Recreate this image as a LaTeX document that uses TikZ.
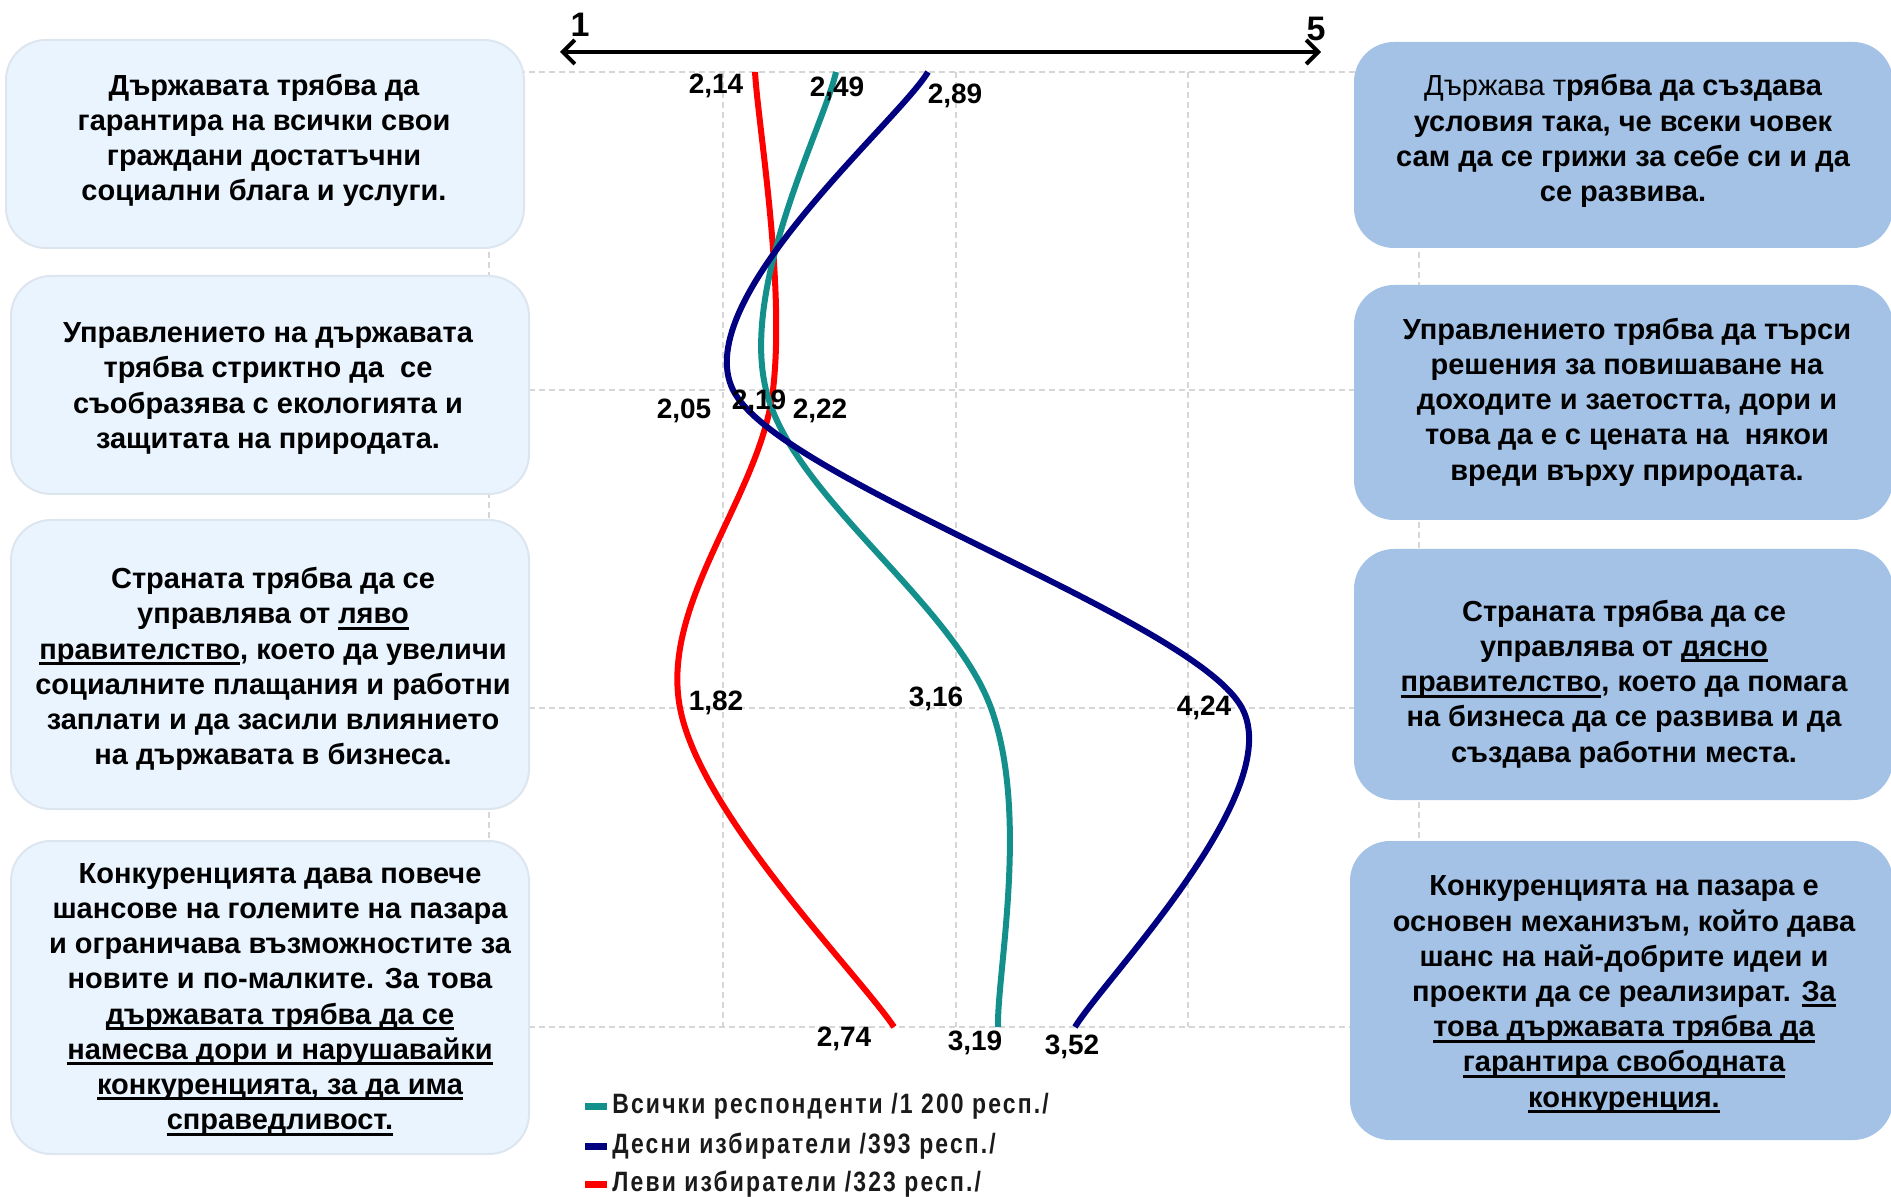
\documentclass[tikz,border=0pt]{standalone}
\usepackage{fontspec}
\setmainfont{Liberation Sans}
\newfontfamily\legfont{Liberation Sans}[FakeStretch=0.82, LetterSpace=7.6]
\usetikzlibrary{arrows.meta}
\definecolor{lboxc}{HTML}{EAF4FE}
\definecolor{lborderc}{HTML}{DDE5EE}
\definecolor{rboxc}{HTML}{A3C2E6}
\definecolor{allc}{HTML}{14908C}
\definecolor{rightc}{HTML}{000080}
\definecolor{leftc}{HTML}{FF0000}
\definecolor{gridc}{HTML}{D6D6D6}
\definecolor{legc}{HTML}{1A1A1A}
\newcommand\myul[1]{\leavevmode\setbox0\hbox{#1}\rlap{\vrule width\wd0 height -1.5pt depth 3pt}\box0}
\tikzset{
  gridline/.style={gridc, line width=0.75pt, dash pattern=on 3pt off 2pt},
  lbox/.style={draw=lborderc, line width=1pt, fill=lboxc, rounded corners=20pt, inner sep=0pt},
  rbox/.style={fill=rboxc, rounded corners=20pt, inner sep=0pt},
  btext/.style={align=center, inner sep=0pt, font=\bfseries\fontsize{14.5}{17.6}\selectfont},
  val/.style={inner sep=0pt, font=\bfseries\fontsize{14}{16}\selectfont},
  series/.style={line width=3pt},
  legmark/.style={inner sep=0pt, minimum width=11pt, minimum height=3.5pt},
  legtext/.style={anchor=west, inner sep=0pt, text=legc, font=\legfont\bfseries\fontsize{14}{16}\selectfont},
  axislbl/.style={inner sep=0pt, font=\bfseries\fontsize{17}{19}\selectfont}
}
\begin{document}
\begin{tikzpicture}[x=0.5pt,y=-0.5pt]
\useasboundingbox (0,0) rectangle (1891,1197);
% grid
\foreach \yy in {72,390,708,1027} \draw[gridline] (489,\yy) -- (1419,\yy);
\foreach \xx in {489,723,956,1188,1419} \draw[gridline] (\xx,72) -- (\xx,1027);
% left boxes
\node[lbox, minimum width=259pt, minimum height=104pt] (L1) at (265,144) {};
\node[lbox, minimum width=259pt, minimum height=109pt] (L2) at (270,385) {};
\node[lbox, minimum width=259pt, minimum height=144.5pt] (L3) at (270,664.5) {};
\node[lbox, minimum width=259pt, minimum height=156.5pt] (L4) at (270,997.5) {};
% right boxes
\node[rbox, minimum width=269.5pt, minimum height=103pt] (R1) at (1623.5,145) {};
\node[rbox, minimum width=269.5pt, minimum height=117.5pt] (R2) at (1623.5,402.5) {};
\node[rbox, minimum width=269.5pt, minimum height=125.5pt] (R3) at (1623.5,674.5) {};
\node[rbox, minimum width=271.5pt, minimum height=149.5pt] (R4) at (1621.5,990.5) {};
% texts
\node[btext] (L1t) at (264,140.5) {Държавата трябва да\\гарантира на всички свои\\граждани достатъчни\\социални блага и услуги.};
\node[btext] (L2t) at (268,388.5) {Управлението на държавата\\трябва стриктно да\ \ се\\съобразява с екологията и\\защитата на природата.};
\node[btext] (L3t) at (273,669) {Страната трябва да се\\управлява от \myul{ляво}\\\myul{правителство}, което да увеличи\\социалните плащания и работни\\заплати и да засили влиянието\\на държавата в бизнеса.};
\node[btext] (L4t) at (280,999.5) {Конкуренцията дава повече\\шансове на големите на пазара\\и ограничава възможностите за\\новите и по-малките. За това\\\myul{държавата трябва да се}\\\myul{намесва дори и нарушавайки}\\\myul{конкуренцията, за да има}\\\myul{справедливост.}};
\node[btext] (R1t) at (1623,141) {{\mdseries Държава т}рябва да създава\\условия така, че всеки човек\\сам да се грижи за себе си и да\\се развива.};
\node[btext] (R2t) at (1627,402) {Управлението трябва да търси\\решения за повишаване на\\доходите и заетостта, дори и\\това да е с цената на\ \ някои\\вреди върху природата.};
\node[btext] (R3t) at (1624,684) {Страната трябва да се\\управлява от \myul{дясно}\\\myul{правителство}, което да помага\\на бизнеса да се развива и да\\създава работни места.};
\node[btext] (R4t) at (1624,994.5) {Конкуренцията на пазара е\\основен механизъм, който дава\\шанс на най-добрите идеи и\\проекти да се реализират. \myul{За}\\\myul{това държавата трябва да}\\\myul{гарантира свободната}\\\myul{конкуренция.}};
% axis
\coordinate (A1) at (560,52);
\coordinate (A5) at (1321,52);
\draw[line width=2pt, {Straight Barb[length=6pt,width=12pt]}-{Straight Barb[length=6pt,width=12pt]}] (A1) -- (A5);
\node[axislbl] (N1) at (580,25) {1};
\node[axislbl] (N5) at (1316,29) {5};
% series (smoothed)
\draw[series, leftc] (755,72) .. controls (758,125) and (785.5,284) .. (773,390)
  .. controls (760.5,496) and (659.8,601.8) .. (680,708)
  .. controls (700.2,814.2) and (858.3,973.8) .. (894,1027);
\draw[series, allc] (836,72) .. controls (824.3,125) and (740.2,284) .. (766,390)
  .. controls (791.8,496) and (952.3,601.8) .. (991,708)
  .. controls (1029.7,814.2) and (996.8,973.8) .. (998,1027);
\draw[series, rightc] (928,72) .. controls (898,122) and (688.5,300) .. (733,390)
  .. controls (777.5,480) and (1193.5,618) .. (1242,708)
  .. controls (1287,792) and (1105,978) .. (1075,1027);
% values
\node[val] (v1) at (716,86) {2,14};
\node[val] (v2) at (837,89) {2,49};
\node[val] (v3) at (955,96) {2,89};
\node[val] (v4) at (684,411) {2,05};
\node[val] (v5) at (759,402) {2,19};
\node[val] (v6) at (820,411) {2,22};
\node[val] (v7) at (716,703) {1,82};
\node[val] (v8) at (936,699) {3,16};
\node[val] (v9) at (1204,708) {4,24};
\node[val] (v10) at (844,1039) {2,74};
\node[val] (v11) at (975,1043) {3,19};
\node[val] (v12) at (1072,1047) {3,52};
% legend
\node[legmark, fill=allc] (m1) at (596,1106) {};
\node[legmark, fill=rightc] (m2) at (596,1146) {};
\node[legmark, fill=leftc] (m3) at (596,1184) {};
\node[legtext] (t1) at (612,1106) {Всички респонденти /1 200 респ./};
\node[legtext] (t2) at (612,1146) {Десни избиратели /393 респ./};
\node[legtext] (t3) at (612,1184) {Леви избиратели /323 респ./};
\end{tikzpicture}
\end{document}
